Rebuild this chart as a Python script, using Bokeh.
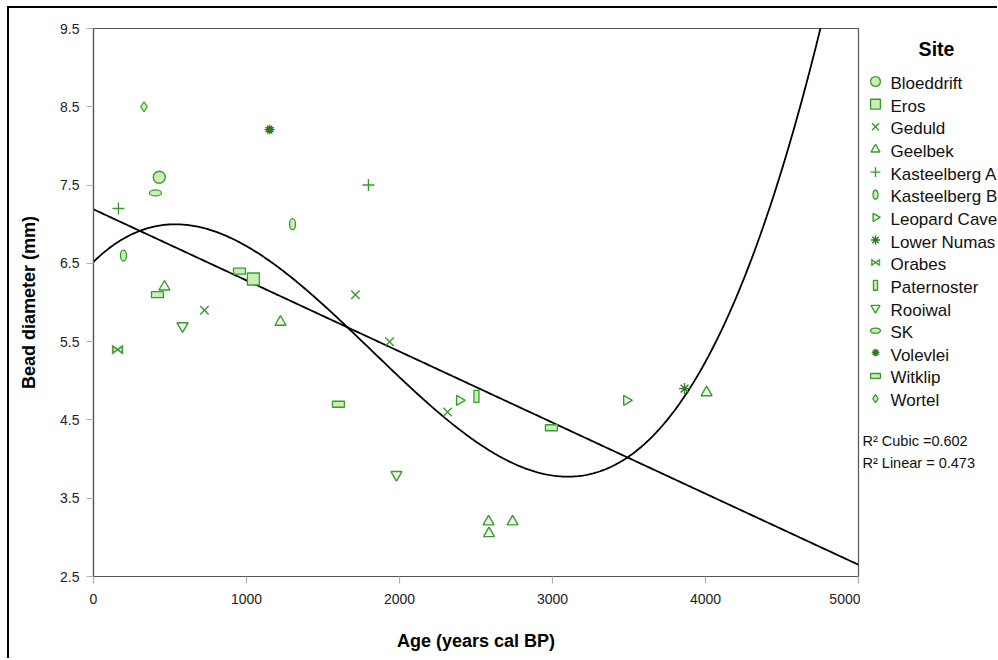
import numpy as np
from bokeh.plotting import figure
from bokeh.layouts import row
from bokeh.models import Range1d, FixedTicker
from bokeh.core.properties import value
from bokeh.embed import file_html
from bokeh.resources import INLINE

# ---------------- data ----------------
sites = ["Bloeddrift", "Eros", "Geduld", "Geelbek", "Kasteelberg A", "Kasteelberg B",
         "Leopard Cave", "Lower Numas", "Orabes", "Paternoster", "Rooiwal", "SK",
         "Volevlei", "Witklip", "Wortel"]

bloeddrift_age = [430]
bloeddrift_diam = [7.6]
eros_age = [1045]
eros_diam = [6.3]
geduld_age = [725, 1712, 1935, 2314]
geduld_diam = [5.9, 6.1, 5.5, 4.6]
geelbek_age = [464, 1222, 2582, 2739, 2585, 4007]
geelbek_diam = [6.2, 5.75, 3.2, 3.2, 3.05, 4.85]
kastA_age = [163, 1797]
kastA_diam = [7.2, 7.5]
kastB_age = [196, 1301]
kastB_diam = [6.6, 7.0]
leopard_age = [2392, 3484]
leopard_diam = [4.75, 4.75]
numas_age = [3863]
numas_diam = [4.9]
orabes_age = [157]
orabes_diam = [5.4]
paternoster_age = [2503]
paternoster_diam = [4.8]
rooiwal_age = [582, 1980]
rooiwal_diam = [5.7, 3.8]
sk_age = [405]
sk_diam = [7.4]
volevlei_age = [1150]
volevlei_diam = [8.2]
witklip_age = [954, 418, 1601, 2993]
witklip_diam = [6.4, 6.1, 4.7, 4.4]
wortel_age = [330]
wortel_diam = [8.5]

# fitted curves (coefficients, lowest order first)
linear_coef = [7.19, -9.08e-4]
cubic_coef = [6.52, 1.9006e-3, -2.0829e-6, 3.82e-10]

x_ticks = [0, 1000, 2000, 3000, 4000, 5000]
y_ticks = [2.5, 3.5, 4.5, 5.5, 6.5, 7.5, 8.5, 9.5]
fit_labels = ["R\u00b2 Cubic =0.602", "R\u00b2 Linear = 0.473"]

# ---------------- style ----------------
FONT = "Liberation Sans"
LG = "#3b9a2f"
FG = "#c8efb4"
DG = "#2d7a21"

p = figure(width=851, height=650, x_range=Range1d(0, 5000), y_range=Range1d(2.5, 9.5),
           output_backend="svg", toolbar_location=None,
           min_border_left=84, min_border_right=2, min_border_top=20, min_border_bottom=82)
p.grid.visible = False
p.outline_line_color = "#555555"
p.outline_line_width = 1.2
p.background_fill_color = "white"
p.border_fill_color = "white"

for ax in (p.xaxis[0], p.yaxis[0]):
    ax.axis_line_color = "#555555"
    ax.axis_line_width = 1.2
    ax.major_tick_line_color = "#b0b0b0"
    ax.major_tick_line_width = 1.2
    ax.major_tick_out = 7
    ax.major_tick_in = 0
    ax.minor_tick_line_color = None
    ax.major_label_text_font = FONT
    ax.major_label_text_font_size = "14px"
    ax.major_label_text_color = "#222222"
    ax.axis_label_text_font = FONT
    ax.axis_label_text_font_size = "18px"
    ax.axis_label_text_font_style = "bold"
    ax.axis_label_text_color = "black"

p.xaxis.ticker = FixedTicker(ticks=x_ticks)
p.yaxis.ticker = FixedTicker(ticks=y_ticks)
p.xaxis.axis_label = "Age (years cal BP)"
p.yaxis.axis_label = "Bead diameter (mm)"
p.xaxis.major_label_standoff = 10
p.yaxis.major_label_standoff = 7
p.xaxis.axis_label_standoff = 24
p.yaxis.axis_label_standoff = 18

# ---------------- fit lines ----------------
xs = np.linspace(0, 5000, 500)
p.line(xs, np.polynomial.polynomial.polyval(xs, linear_coef), line_color="black", line_width=1.8)
p.line(xs, np.polynomial.polynomial.polyval(xs, cubic_coef), line_color="black", line_width=1.8)


# ---------------- marker drawing helpers ----------------
def draw(fig, key, xs_, ys_, scale=1.0):
    s = scale
    if key == "Bloeddrift":
        fig.scatter(xs_, ys_, marker="circle", size=12 * s, fill_color=FG, line_color=LG, line_width=1.3)
    elif key == "Eros":
        fig.scatter(xs_, ys_, marker="square", size=12 * s, fill_color=FG, line_color=LG, line_width=1.3)
    elif key == "Geduld":
        fig.scatter(xs_, ys_, marker="x", size=12 * s, line_color=LG, line_width=1.4)
    elif key == "Geelbek":
        fig.scatter(xs_, ys_, marker="triangle", size=11 * s, fill_color="#eefae8", line_color=LG, line_width=1.4)
    elif key == "Kasteelberg A":
        fig.scatter(xs_, ys_, marker="cross", size=12 * s, line_color=LG, line_width=1.4)
    elif key == "Kasteelberg B":
        fig.ellipse(xs_, ys_, width=6 * s, height=11 * s, width_units="screen", height_units="screen",
                    fill_color=FG, line_color=LG, line_width=1.3)
    elif key == "Leopard Cave":
        fig.scatter(xs_, ys_, marker="triangle", angle=-np.pi / 2, size=10 * s, fill_color="#eefae8",
                    line_color=LG, line_width=1.4)
    elif key == "Lower Numas":
        fig.scatter(xs_, ys_, marker="asterisk", size=11 * s, line_color=DG, line_width=1.4)
    elif key == "Orabes":
        fig.text(xs_, ys_, text=["\u22c8"] * len(xs_), text_align="center", text_baseline="middle",
                 text_font=value("DejaVu Sans"), text_font_size=f"{14 * s:.0f}px", text_color=LG,
                 text_font_style="bold")
    elif key == "Paternoster":
        fig.rect(xs_, ys_, width=5 * s, height=12 * s, width_units="screen", height_units="screen",
                 fill_color=FG, line_color=LG, line_width=1.3)
    elif key == "Rooiwal":
        fig.scatter(xs_, ys_, marker="inverted_triangle", size=11 * s, fill_color="#eefae8",
                    line_color=LG, line_width=1.4)
    elif key == "SK":
        fig.ellipse(xs_, ys_, width=12 * s, height=6 * s, width_units="screen", height_units="screen",
                    fill_color=FG, line_color=LG, line_width=1.3)
    elif key == "Volevlei":
        fig.text(xs_, ys_, text=["\u2739"] * len(xs_), text_align="center", text_baseline="middle",
                 text_font=value("DejaVu Sans"), text_font_size=f"{15 * s:.0f}px", text_color=DG)
    elif key == "Witklip":
        fig.rect(xs_, ys_, width=12 * s, height=6 * s, width_units="screen", height_units="screen",
                 fill_color=FG, line_color=LG, line_width=1.3)
    elif key == "Wortel":
        fig.scatter(xs_, ys_, marker="diamond", size=10 * s, fill_color=FG, line_color=LG, line_width=1.2)


series = {
    "Bloeddrift": (bloeddrift_age, bloeddrift_diam),
    "Eros": (eros_age, eros_diam),
    "Geduld": (geduld_age, geduld_diam),
    "Geelbek": (geelbek_age, geelbek_diam),
    "Kasteelberg A": (kastA_age, kastA_diam),
    "Kasteelberg B": (kastB_age, kastB_diam),
    "Leopard Cave": (leopard_age, leopard_diam),
    "Lower Numas": (numas_age, numas_diam),
    "Orabes": (orabes_age, orabes_diam),
    "Paternoster": (paternoster_age, paternoster_diam),
    "Rooiwal": (rooiwal_age, rooiwal_diam),
    "SK": (sk_age, sk_diam),
    "Volevlei": (volevlei_age, volevlei_diam),
    "Witklip": (witklip_age, witklip_diam),
    "Wortel": (wortel_age, wortel_diam),
}
for name in sites:
    a, d = series[name]
    draw(p, name, a, d)

# ---------------- legend panel ----------------
# the row aligns this panel's frame with the main frame (page y 28..576),
# so the y range is expressed in page pixels
LW, LH = 137, 650
lg = figure(width=LW, height=LH, x_range=Range1d(0, LW), y_range=Range1d(576, 28),
            output_backend="svg", toolbar_location=None, x_axis_location=None, y_axis_location=None,
            min_border=0, title_location=None)
lg.grid.visible = False
lg.outline_line_color = None

lg.text([76], [48], text=["Site"], text_align="center", text_baseline="middle",
        text_font=value(FONT), text_font_size="19.5px", text_font_style="bold", text_color="black")
row_y = [83 + 22.65 * i for i in range(len(sites))]
for i, name in enumerate(sites):
    draw(lg, name, [15], [row_y[i] - 2], scale=0.82)
lg.text([30] * len(sites), row_y, text=sites, text_align="left", text_baseline="middle",
        text_font=value(FONT), text_font_size="17px", text_color="#111111")
lg.text([2, 2], [440, 462], text=fit_labels, text_align="left", text_baseline="middle",
        text_font=value(FONT), text_font_size="14.5px", text_color="#111111")

layout = row(p, lg, margin=(6, 0, 0, 7),
             styles={"border-left": "2px solid black", "border-top": "2px solid black"})

open("out.html", "w").write(file_html(layout, INLINE))
